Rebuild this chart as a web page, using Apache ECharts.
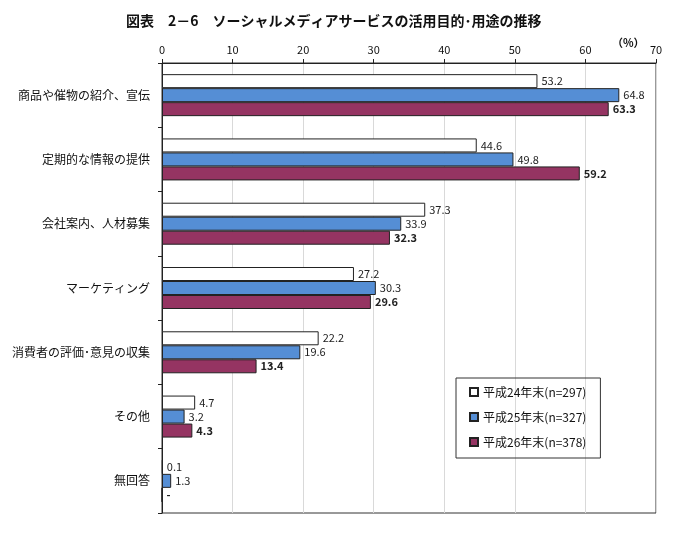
<!DOCTYPE html>
<html><head><meta charset="utf-8">
<script src="https://cdn.jsdelivr.net/npm/echarts@6/dist/echarts.min.js"></script>
<style>html,body{margin:0;padding:0;background:#fff}#c{width:680px;height:544px}</style>
</head><body><div id="c"></div>
<script>
const categories = ['商品や催物の紹介、宣伝','定期的な情報の提供','会社案内、人材募集','マーケティング','消費者の評価･意見の収集','その他','無回答'];
const seriesNames = ['平成24年末(n=297)','平成25年末(n=327)','平成26年末(n=378)'];
const h24 = [53.2, 44.6, 37.3, 27.2, 22.2, 4.7, 0.1];
const h25 = [64.8, 49.8, 33.9, 30.3, 19.6, 3.2, 1.3];
const h26 = [63.3, 59.2, 32.3, 29.6, 13.4, 4.3, null];
const xTicks = [0, 10, 20, 30, 40, 50, 60, 70];

const font = '"Noto Sans CJK JP", sans-serif';
const colors = ['#ffffff', '#558ed5', '#953462'];
function mk(name, vals, color, bold) {
  return {
    name, type: 'bar', barWidth: 14, barGap: '0%',
    itemStyle: { color, borderColor: '#222', borderWidth: 1 },
    label: { show: true, position: 'right', distance: 4, fontSize: 11, fontFamily: font,
      color: '#222', fontWeight: bold ? 'bold' : 'normal',
      formatter: p => (p.data && p.data.missing) ? '-' : p.value.toFixed(1) },
    data: vals.map(v => v === null ? { value: 0, missing: true } : v)
  };
}
const chart = echarts.init(document.getElementById('c'), null, { renderer: 'canvas' });
chart.setOption({
  animation: false,
  title: { text: '図表　2－6　ソーシャルメディアサービスの活用目的･用途の推移', left: 121, top: 9,
    textStyle: { fontSize: 14, fontWeight: 'bold', fontFamily: font, color: '#111' } },
  grid: { left: 162, right: 24, top: 63, bottom: 31, show: true, borderColor: '#333', borderWidth: 1 },
  xAxis: { type: 'value', position: 'top', min: 0, max: 70, interval: 10,
    axisLine: { show: true, lineStyle: { color: '#222' } },
    axisTick: { show: true, length: 4, lineStyle: { color: '#222' } },
    axisLabel: { fontSize: 11, fontFamily: font, color: '#111', margin: 8,
      formatter: v => xTicks.includes(v) ? String(v) : '' },
    splitLine: { show: true, lineStyle: { color: '#d9d9d9' } } },
  yAxis: { type: 'category', data: categories, inverse: true,
    axisLine: { show: true, lineStyle: { color: '#222' } },
    axisTick: { show: true, length: 4, lineStyle: { color: '#222' } },
    axisLabel: { fontSize: 12, fontFamily: font, color: '#111', margin: 12 } },
  legend: { orient: 'vertical', left: 456, top: 378, itemWidth: 8, itemHeight: 8, itemGap: 13,
    icon: 'rect', padding: [8, 14, 10, 13], borderColor: '#333', borderWidth: 1,
    textStyle: { fontSize: 12, fontFamily: font, color: '#111' }, data: seriesNames },
  graphic: [{ type: 'text', left: 612, top: 37, style: { text: '（%）', fontSize: 11, fontWeight: 'bold', fontFamily: font, fill: '#111' } }],
  series: [mk(seriesNames[0], h24, colors[0], false), mk(seriesNames[1], h25, colors[1], false), mk(seriesNames[2], h26, colors[2], true)]
});
</script></body></html>
